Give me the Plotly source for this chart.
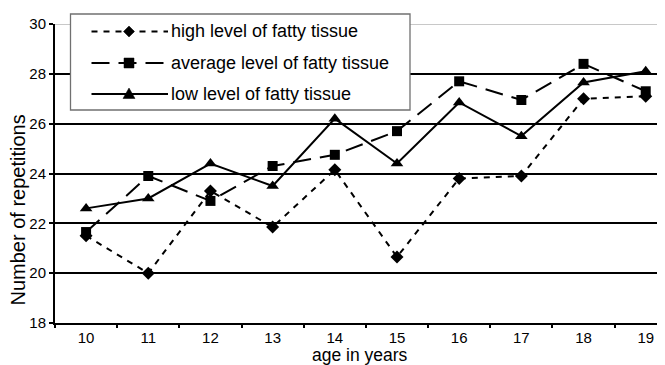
import plotly.graph_objects as go

ages = ["10", "11", "12", "13", "14", "15", "16", "17", "18", "19"]
high_fat = [21.5, 20.0, 23.3, 21.85, 24.15, 20.65, 23.8, 23.9, 27.0, 27.1]
avg_fat = [21.65, 23.9, 22.9, 24.3, 24.75, 25.7, 27.7, 26.95, 28.4, 27.3]
low_fat = [22.6, 23.0, 24.4, 23.5, 26.2, 24.4, 26.85, 25.5, 27.65, 28.1]
series_names = ["high level of fatty tissue", "average level of fatty tissue", "low level of fatty tissue"]
y_ticks = [18, 20, 22, 24, 26, 28, 30]
x_title = "age in years"
y_title = "Number of repetitions"

FONT = "Liberation Sans, Arial, sans-serif"
OFF = 8  # page body margin
W, H = 665 - OFF, 365 - OFF
ML, MR, MT, MB = 55 - OFF, 0, 24 - OFF, 42
PW, PH = W - ML - MR, H - MT - MB

dashes = ["6px,6px", "18px,9px", "solid"]
symbols = ["diamond", "square", "triangle-up"]
sizes = [10, 10, 11]

fig = go.Figure()
for name, vals, dash, sym, sz in zip(series_names, [high_fat, avg_fat, low_fat], dashes, symbols, sizes):
    fig.add_trace(go.Scatter(
        x=ages, y=vals, name=name, mode="lines+markers",
        line=dict(color="black", width=2, dash=dash),
        marker=dict(symbol=sym, size=sz, color="black"),
        showlegend=False,
    ))

# helpers: convert window pixel positions to paper coordinates
def px_x(p):
    return (p - OFF - ML) / PW

def px_y(p):
    return (H - MB - (p - OFF)) / PH

shapes = []
# light gray top border at 30
shapes.append(dict(type="line", xref="paper", yref="y", x0=0, x1=1, y0=30, y1=30,
                   line=dict(color="#c8c8c8", width=2), layer="above"))
# legend box
shapes.append(dict(type="rect", xref="paper", yref="paper",
                   x0=px_x(70.5), x1=px_x(410), y0=px_y(110), y1=px_y(14),
                   line=dict(color="#707070", width=1.3), fillcolor="white", layer="above"))
rows = [31.5, 63, 94]
marker_paths = [
    "M0,5.5 L5.5,0 L0,-5.5 L-5.5,0 Z",
    "M-5,-5 L5,-5 L5,5 L-5,5 Z",
    "M0,6 L6,-4.5 L-6,-4.5 Z",
]
annotations = []
for i, ry in enumerate(rows):
    shapes.append(dict(type="line", xref="paper", yref="paper",
                       x0=px_x(91.5), x1=px_x(168), y0=px_y(ry), y1=px_y(ry),
                       line=dict(color="black", width=2, dash=dashes[i]), layer="above"))
    shapes.append(dict(type="path", xref="paper", yref="paper",
                       xsizemode="pixel", ysizemode="pixel",
                       xanchor=px_x(129), yanchor=px_y(ry),
                       path=marker_paths[i], fillcolor="black",
                       line=dict(color="black", width=0.5), layer="above"))
    annotations.append(dict(xref="paper", yref="paper", x=px_x(169), y=px_y(ry),
                            xanchor="left", yanchor="middle", showarrow=False,
                            text=series_names[i],
                            font=dict(family=FONT, size=18, color="black")))

# axis titles
annotations.append(dict(xref="paper", yref="paper", x=px_x(17.5), y=px_y(210),
                        xanchor="center", yanchor="middle", showarrow=False,
                        textangle=-90, text=y_title,
                        font=dict(family=FONT, size=20, color="black")))
annotations.append(dict(xref="paper", yref="paper", x=0.5, y=px_y(354.5),
                        xanchor="center", yanchor="middle", showarrow=False,
                        text=x_title, borderpad=0,
                        font=dict(family=FONT, size=17.5, color="black")))

fig.update_layout(
    width=W, height=H,
    margin=dict(l=ML, r=MR, t=MT, b=MB),
    paper_bgcolor="white", plot_bgcolor="white",
    font=dict(family=FONT, color="black"),
    shapes=shapes, annotations=annotations,
    showlegend=False,
)
fig.update_xaxes(
    type="category", range=[-0.5, 9.31],
    showgrid=False, showline=True, linecolor="black", linewidth=2,
    ticks="outside", tickson="boundaries", ticklen=3, tickwidth=2, tickcolor="black",
    tickfont=dict(family=FONT, size=15, color="black"),
    automargin=False,
)
fig.update_yaxes(
    range=[18, 30], tickvals=y_ticks,
    showgrid=True, gridcolor="black", gridwidth=2,
    showline=True, linecolor="black", linewidth=2,
    ticks="outside", ticklen=4, tickwidth=2, tickcolor="black",
    tickfont=dict(family=FONT, size=15, color="black"),
    zeroline=False, automargin=False,
)

fig.write_html("out.html")
